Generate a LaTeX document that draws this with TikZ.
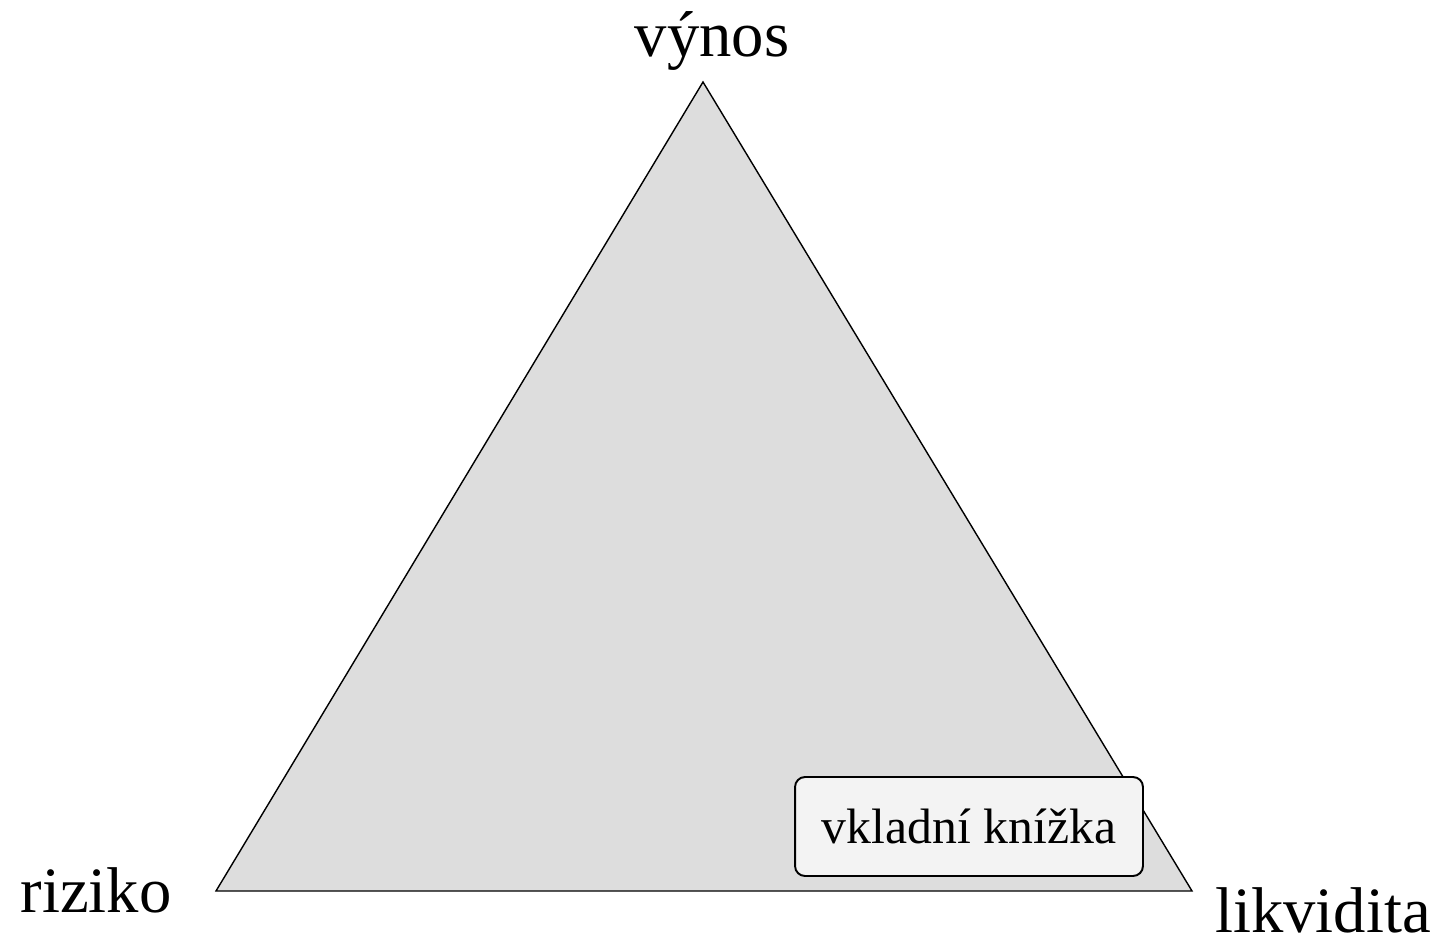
\documentclass[tikz,border=0pt]{standalone}
\usepackage{fontspec}
\setmainfont{Liberation Serif}
\usetikzlibrary{positioning}
\definecolor{trifill}{HTML}{DDDDDD}
\definecolor{boxfill}{HTML}{F3F3F3}

\begin{document}
\begin{tikzpicture}[x=0.02cm,y=-0.02cm,
    corner/.style={font=\fontsize{36.8}{40}\selectfont,inner sep=0pt,anchor=base},
    product/.style={draw,line width=1.1pt,fill=boxfill,rounded corners=0.2cm,
        minimum width=6.96cm,minimum height=1.98cm,inner sep=0pt,
        font=\fontsize{28.3}{32}\selectfont}]
\useasboundingbox (0,0) rectangle (1447,939);
\coordinate (top) at (703,82);
\coordinate (left) at (216,891);
\coordinate (right) at (1192,891);
\filldraw[fill=trifill,line width=0.8pt,line join=miter] (top) -- (left) -- (right) -- cycle;

\node[corner] (vynos) at (712,57) {výnos};
\node[corner] (riziko) at (96,912) {riziko};
\node[corner] (likvidita) at (1323,932) {likvidita};

\node[product] (knizka) at (969,826.5) {vkladní knížka};
\end{tikzpicture}
\end{document}
